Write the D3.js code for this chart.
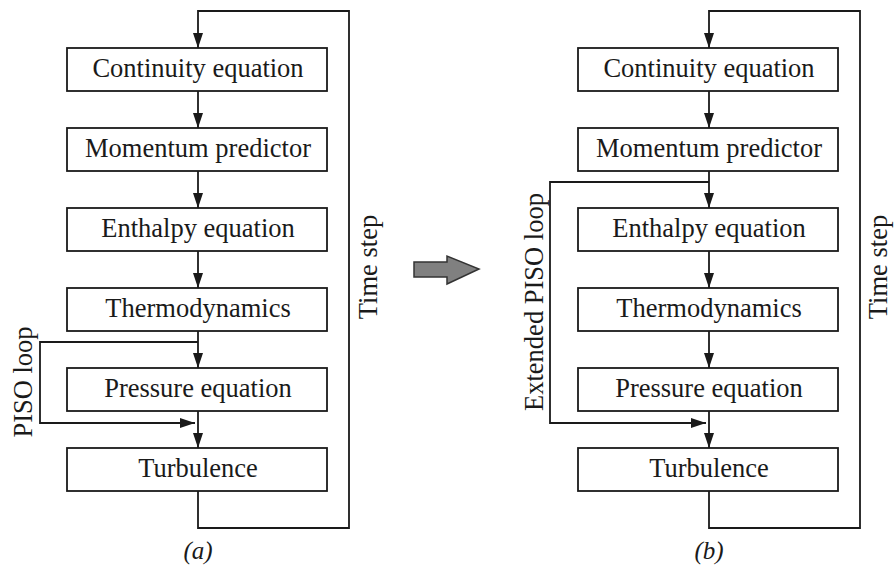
<!DOCTYPE html>
<html>
<head>
<meta charset="utf-8">
<script src="https://cdn.jsdelivr.net/npm/d3@7"></script>
</head>
<body style="margin:0; background:#fff">
<svg id="chart"></svg>
<script>
/*
	Diagram content
*/
const steps = ['Continuity equation', 'Momentum predictor', 'Enthalpy equation', 'Thermodynamics', 'Pressure equation', 'Turbulence']
const panels = ['(a)', '(b)']
const loopLabels = ['PISO loop', 'Extended PISO loop']
// inner loop leaves the gap above step `loopFrom` and re-enters the gap above step `loopTo`
const loopFrom = [4, 2]
const loopTo = [5, 5]
const outerLabel = 'Time step'

const [width, height] = [894, 566]
const boxH = 43
const boxW = 260
const ink = '#1a1a1a'
const font = 'Liberation Serif'
const fontSize = 26.5

const svg = d3.select('#chart').attr('width', width).attr('height', height)

svg.append('defs').append('marker')
	.attr('id', 'head')
	.attr('viewBox', '0 0 15 10')
	.attr('refX', 15).attr('refY', 5)
	.attr('markerWidth', 15).attr('markerHeight', 10)
	.attr('markerUnits', 'userSpaceOnUse')
	.attr('orient', 'auto')
	.append('path').attr('d', 'M0,0 L15,5 L0,10 Z').attr('fill', ink)

// rows share one vertical scale, panels have their own horizontal placement
const y = d3.scaleLinear().domain([0, steps.length - 1]).range([48, 448])
const panelX = d3.scaleOrdinal().domain(panels).range([67, 578])
const loopX = d3.scaleOrdinal().domain(panels).range([40, 550])
const loopLabelX = d3.scaleOrdinal().domain(panels).range([32, 543])
const loopLabelY = d3.scaleOrdinal().domain(panels).range([382, 302])
const stepLabelX = d3.scaleOrdinal().domain(panels).range([377, 887])

function label(g, x, yy, rot, txt, size) {
	return g.append('text')
		.attr('transform', `translate(${x},${yy})` + (rot ? ` rotate(${rot})` : ''))
		.attr('text-anchor', 'middle')
		.attr('font-family', font).attr('font-size', size || fontSize).attr('fill', ink)
		.text(txt)
}

panels.forEach((p, pi) => {
	const x0 = panelX(p)
	const cx = x0 + boxW / 2 + 1
	const right = x0 + boxW + 22
	const g = svg.append('g')

	// boxes
	const box = g.selectAll('g.step').data(steps).enter().append('g').attr('class', 'step')
	box.append('rect')
		.attr('x', x0).attr('y', (d, i) => y(i))
		.attr('width', boxW).attr('height', boxH)
		.attr('fill', 'none').attr('stroke', ink).attr('stroke-width', 1.8)
	box.append('text')
		.attr('x', x0 + boxW / 2 + 1).attr('y', (d, i) => y(i) + 29)
		.attr('text-anchor', 'middle')
		.attr('font-family', font).attr('font-size', fontSize).attr('fill', ink)
		.text(d => d)

	// straight arrows between consecutive boxes
	g.selectAll('line.flow').data(steps.slice(1)).enter().append('line')
		.attr('x1', cx).attr('x2', cx)
		.attr('y1', (d, i) => y(i) + boxH).attr('y2', (d, i) => y(i + 1))
		.attr('stroke', ink).attr('stroke-width', 1.8)
		.attr('marker-end', 'url(#head)')

	// outer time-step loop
	const bottom = y(steps.length - 1) + boxH
	g.append('path')
		.attr('d', `M${cx},${bottom} V528 H${right} V11 H${cx} V${y(0)}`)
		.attr('fill', 'none').attr('stroke', ink).attr('stroke-width', 1.8)
		.attr('marker-end', 'url(#head)')
	label(g, stepLabelX(p), 267, -90, outerLabel)

	// inner PISO loop
	const top = y(loopFrom[pi]) - 26
	const bot = y(loopTo[pi]) - 25
	const lx = loopX(p)
	g.append('path')
		.attr('d', `M${cx},${top} H${lx} V${bot} H${cx - 3}`)
		.attr('fill', 'none').attr('stroke', ink).attr('stroke-width', 1.8)
		.attr('marker-end', 'url(#head)')
	label(g, loopLabelX(p), loopLabelY(p), -90, loopLabels[pi])

	// panel caption
	label(g, cx, 559, 0, p, 25).attr('font-style', 'italic')
})

// grey block arrow between the panels
svg.append('path')
	.attr('d', 'M414,262 H447 V256 L479,269 L447,284 V277 H414 Z')
	.attr('fill', '#808080').attr('stroke', '#333').attr('stroke-width', 1.5)
</script>
</body>
</html>
